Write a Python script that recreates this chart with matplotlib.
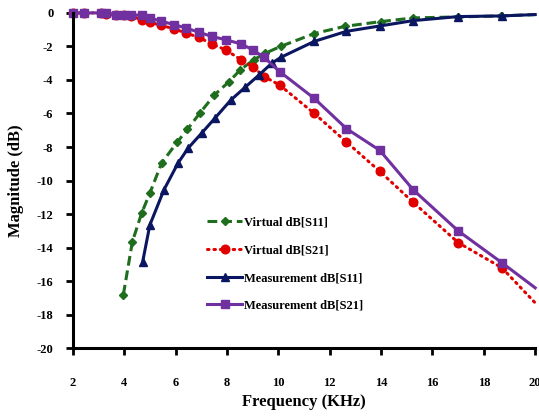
import matplotlib
matplotlib.use("Agg")
import matplotlib.pyplot as plt

# Virtual dB[S11]
v11_x = [3.97, 4.32, 4.68, 5.0, 5.46, 6.07, 6.46, 6.96, 7.51, 8.07, 8.52, 9.04, 9.5, 10.09, 11.4, 12.6, 13.99, 15.25, 17.0, 18.68, 20.0]
v11_y = [-16.8, -13.65, -11.95, -10.75, -8.95, -7.7, -6.95, -5.95, -4.9, -4.12, -3.4, -2.8, -2.4, -2.0, -1.23, -0.8, -0.52, -0.3, -0.24, -0.18, -0.1]

# Virtual dB[S21]
v21_x = [2.0, 2.45, 3.1, 3.3, 3.7, 4.0, 4.25, 4.7, 5.0, 5.45, 5.95, 6.4, 6.9, 7.4, 7.95, 8.55, 9.0, 9.45, 10.05, 11.4, 12.65, 13.95, 15.25, 17.0, 18.7, 20.0]
v21_y = [0.0, 0.0, 0.0, -0.05, -0.1, -0.15, -0.2, -0.4, -0.55, -0.75, -0.95, -1.2, -1.45, -1.85, -2.2, -2.8, -3.2, -3.8, -4.3, -6.0, -7.7, -9.45, -11.3, -13.7, -15.2, -17.3]

# Measurement dB[S11]
m11_x = [4.72, 5.0, 5.55, 6.1, 6.5, 7.03, 7.55, 8.15, 8.7, 9.25, 9.75, 10.1, 11.4, 12.65, 13.95, 15.25, 17.0, 18.7, 20.0]
m11_y = [-14.85, -12.65, -10.55, -8.95, -8.05, -7.15, -6.25, -5.2, -4.45, -3.7, -3.0, -2.65, -1.7, -1.1, -0.78, -0.46, -0.22, -0.18, -0.1]

# Measurement dB[S21]
m21_x = [2.0, 2.45, 3.1, 3.3, 3.7, 4.0, 4.25, 4.7, 5.0, 5.45, 5.95, 6.4, 6.9, 7.4, 7.95, 8.55, 9.0, 9.45, 10.05, 11.4, 12.65, 13.95, 15.25, 17.0, 18.7, 20.0]
m21_y = [0.0, 0.0, 0.0, 0.0, -0.1, -0.1, -0.1, -0.15, -0.3, -0.5, -0.7, -0.9, -1.15, -1.4, -1.6, -1.85, -2.2, -2.65, -3.5, -5.1, -6.9, -8.2, -10.55, -13.0, -14.9, -16.4]

labels = ["Virtual dB[S11]", "Virtual dB[S21]", "Measurement dB[S11]", "Measurement dB[S21]"]
x_ticks = [2, 4, 6, 8, 10, 12, 14, 16, 18, 20]
y_ticks = [0, -2, -4, -6, -8, -10, -12, -14, -16, -18, -20]

plt.rcParams['font.family'] = ['Liberation Serif', 'DejaVu Serif']
plt.rcParams['font.weight'] = 'bold'

fig = plt.figure(figsize=(5.39, 4.16), dpi=100)
ax = fig.add_axes([0.135, 0.163, 0.858, 0.806])

green = '#1E6E1E'
red = '#E00000'
navy = '#0B1660'
purple = '#7030A0'

def skip_last(n):
    return list(range(n - 1))

ax.plot(v11_x, v11_y, color=green, lw=2.2, ls=(0, (3.2, 1.6)), marker='D', ms=4.5,
        markevery=skip_last(len(v11_x)), label=labels[0], clip_on=False)
ax.plot(v21_x, v21_y, color=red, lw=2.2, ls=(0, (0.5, 1.6)), dash_capstyle='round',
        marker='o', ms=6.2, markevery=skip_last(len(v21_x)), label=labels[1], clip_on=False)
ax.plot(m11_x, m11_y, color=navy, lw=2.2, ls='-', marker='^', ms=5.5,
        markevery=skip_last(len(m11_x)), label=labels[2], clip_on=False)
ax.plot(m21_x, m21_y, color=purple, lw=2.2, ls='-', marker='s', ms=6,
        markevery=skip_last(len(m21_x)), label=labels[3], clip_on=False)

ax.set_xlim(2, 20)
ax.set_ylim(-20, 0)
ax.set_xticks(x_ticks)
ax.set_yticks(y_ticks)
ax.set_xticklabels([str(t) for t in x_ticks], fontsize=9, fontweight='bold')
ax.set_yticklabels([str(t) for t in y_ticks], fontsize=9, fontweight='bold')
ax.tick_params(axis='x', direction='out', length=5, width=2, pad=16)
ax.tick_params(axis='y', direction='out', length=5, width=2, pad=9)

for s in ['top', 'right']:
    ax.spines[s].set_visible(False)
for s in ['left', 'bottom']:
    ax.spines[s].set_linewidth(2.2)

ax.set_xlabel("Frequency (KHz)", fontsize=12, fontweight='bold', labelpad=3)
ax.set_ylabel("Magnitude (dB)", fontsize=12, fontweight='bold', labelpad=9)

leg = ax.legend(loc='upper left', bbox_to_anchor=(0.291, 0.392), frameon=False,
                fontsize=9, handlelength=2.8, handletextpad=0.15, labelspacing=1.25,
                borderpad=0, borderaxespad=0)
for t in leg.get_texts():
    t.set_fontweight('bold')

fig.savefig("out.png", dpi=100)
